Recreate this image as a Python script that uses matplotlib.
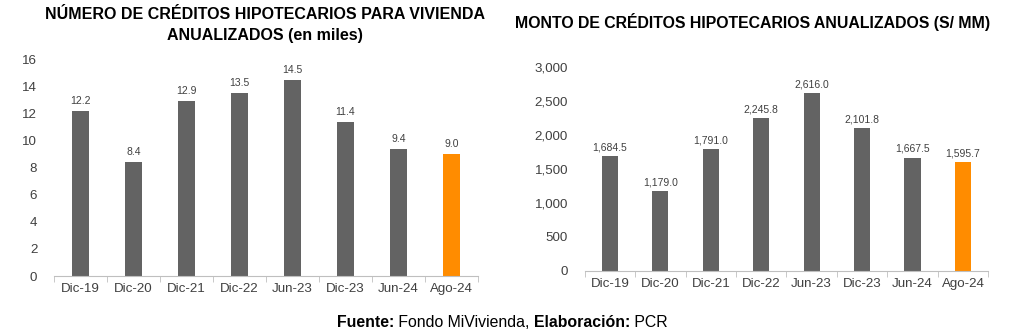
import matplotlib.pyplot as plt
import numpy as np

plt.rcParams['font.family'] = ['Liberation Sans', 'DejaVu Sans']

# datos
periodos = ["Dic-19", "Dic-20", "Dic-21", "Dic-22", "Jun-23", "Dic-23", "Jun-24", "Ago-24"]
num_creditos = [12.2, 8.4, 12.9, 13.5, 14.5, 11.4, 9.4, 9.0]
monto_creditos = [1684.5, 1179.0, 1791.0, 2245.8, 2616.0, 2101.8, 1667.5, 1595.7]

GRIS = "#636363"
NARANJA = "#FF8C00"
EJE = "#BFBFBF"
TEXTO = "#404040"

colores = [GRIS] * (len(periodos) - 1) + [NARANJA]

fig = plt.figure(figsize=(10.24, 3.30), dpi=100)

ax1 = fig.add_axes([0.0527, 0.1636, 0.414, 0.657])
ax2 = fig.add_axes([0.571, 0.179, 0.394, 0.618])


def dibujar(ax, valores, ymax, paso, fmt, offset):
    x = np.arange(len(periodos))
    ax.bar(x, valores, width=0.32, color=colores, zorder=2)
    for xi, v in zip(x, valores):
        ax.text(xi, v + offset, fmt(v), ha="center", va="bottom", fontsize=7.5, color=TEXTO)
    ax.set_xlim(-0.5, len(periodos) - 0.5)
    ax.set_ylim(0, ymax)
    ax.set_yticks(np.arange(0, ymax + paso / 2, paso))
    ax.set_xticks(x)
    ax.set_xticklabels(periodos, fontsize=9.6, color=TEXTO)
    ax.set_xticks(np.arange(-0.5, len(periodos), 1), minor=True)
    ax.tick_params(axis="x", which="major", length=0, pad=5)
    ax.tick_params(axis="x", which="minor", length=4, color=EJE)
    ax.tick_params(axis="y", length=0, labelsize=9.6, labelcolor=TEXTO, pad=12)
    for s in ["top", "right", "left"]:
        ax.spines[s].set_visible(False)
    ax.spines["bottom"].set_color(EJE)


dibujar(ax1, num_creditos, 16, 2, lambda v: f"{v:.1f}", 0.35)
ax1.set_yticklabels([f"{int(t)}" for t in ax1.get_yticks()])

dibujar(ax2, monto_creditos, 3000, 500, lambda v: f"{v:,.1f}", 55)
ax2.set_yticklabels([f"{int(t):,}" for t in ax2.get_yticks()])

fig.text(0.259, 0.955, "NÚMERO DE CRÉDITOS HIPOTECARIOS PARA VIVIENDA", ha="center", va="center",
         fontsize=11.5, fontweight="bold", color="black")
fig.text(0.259, 0.893, "ANUALIZADOS (en miles)", ha="center", va="center",
         fontsize=11.5, fontweight="bold", color="black")
fig.text(0.735, 0.933, "MONTO DE CRÉDITOS HIPOTECARIOS ANUALIZADOS (S/ MM)", ha="center", va="center",
         fontsize=11.4, fontweight="bold", color="black")

# pie de figura: piezas en negrita y normal, una detrás de otra
partes = [("Fuente:", "bold"), (" Fondo MiVivienda, ", "normal"), ("Elaboración:", "bold"), (" PCR", "normal")]
renderer = fig.canvas.get_renderer()
x = 337 / 1024
for txt, peso in partes:
    t = fig.text(x, 0.024, txt, ha="left", va="center", fontsize=11.4, fontweight=peso, color="black")
    bb = t.get_window_extent(renderer=renderer)
    x += bb.width / fig.bbox.width

fig.savefig("out.png", dpi=100)
